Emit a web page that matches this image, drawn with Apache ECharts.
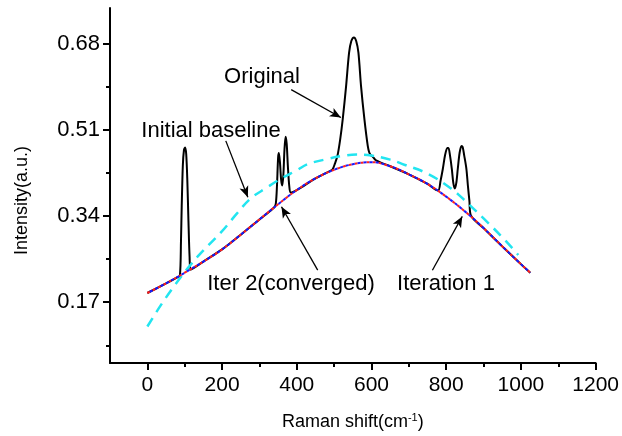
<!DOCTYPE html>
<html>
<head>
    <meta charset="utf-8">
    <title>Raman baseline</title>
    <script src="https://cdn.jsdelivr.net/npm/echarts@6/dist/echarts.min.js"></script>
    <style>
        html, body { margin: 0; padding: 0; background: #fff; }
        #chart { width: 622px; height: 436px; }
    </style>
</head>
<body>
    <div id="chart"></div>
    <script>
        // original spectrum
        var origX = [0, 50, 80, 87, 90, 92, 95, 98, 101, 104, 107, 110, 113, 116, 150, 200, 250, 300,
            340, 344, 347, 350, 352, 355, 358, 361, 364, 367, 370, 373, 376, 380, 384, 400, 450,
            490, 496, 502, 509, 516, 523, 532, 540, 546, 553, 559, 565, 572, 581, 590, 594, 598, 603, 610, 617, 625,
            650, 700, 750, 778, 785, 791, 797, 803, 806, 810, 815, 819, 823, 827, 831, 836, 841, 844, 848, 854, 858, 862, 866,
            900, 950, 1000, 1025];
        var origY = [0.188, 0.207, 0.219, 0.222, 0.29, 0.36, 0.44, 0.47, 0.475, 0.462, 0.41, 0.33, 0.26, 0.234, 0.250, 0.274, 0.303, 0.333,
            0.357, 0.365, 0.40, 0.455, 0.464, 0.445, 0.412, 0.40, 0.42, 0.47, 0.496, 0.482, 0.44, 0.398, 0.386, 0.391, 0.414,
            0.429, 0.432, 0.443, 0.459, 0.49, 0.531, 0.596, 0.662, 0.685, 0.692, 0.685, 0.662, 0.596, 0.531, 0.478, 0.465, 0.46, 0.457, 0.451, 0.448, 0.445,
            0.438, 0.422, 0.403, 0.39, 0.41, 0.433, 0.46, 0.474, 0.474, 0.46, 0.433, 0.405, 0.394, 0.405, 0.433, 0.465, 0.478, 0.476, 0.46, 0.433, 0.40, 0.37, 0.341,
            0.316, 0.280, 0.245, 0.228];

        // initial baseline (polynomial fit, cyan dashed)
        var initX = [0, 37, 75, 115, 150, 200, 240, 276, 320, 361, 400, 429, 480, 520, 560, 600, 650, 688, 751, 813, 849, 900, 950, 993];
        var initY = [0.122, 0.165, 0.205, 0.243, 0.272, 0.31, 0.345, 0.374, 0.396, 0.415, 0.43, 0.442, 0.452, 0.458, 0.461, 0.459, 0.451, 0.441, 0.423, 0.394, 0.371, 0.335, 0.298, 0.263];

        // iteration baselines
        var iterX = [0, 50, 100, 150, 200, 250, 300, 350, 400, 450, 500, 550, 600, 650, 700, 750, 800, 850, 900, 950, 1000, 1025];
        var iter1Y = [0.188, 0.207, 0.228, 0.250, 0.274, 0.303, 0.333, 0.363, 0.391, 0.414, 0.431, 0.442, 0.446, 0.438, 0.422, 0.403, 0.378, 0.349, 0.316, 0.280, 0.245, 0.228];
        var iter2Y = [0.188, 0.207, 0.228, 0.250, 0.274, 0.303, 0.333, 0.363, 0.391, 0.414, 0.431, 0.442, 0.446, 0.438, 0.422, 0.403, 0.378, 0.349, 0.316, 0.280, 0.245, 0.228];

        var yMajor = [0.17, 0.34, 0.51, 0.68];
        var yMinor = [0.085, 0.255, 0.425, 0.595];
        var xMajor = [0, 200, 400, 600, 800, 1000, 1200];
        var xMinor = [100, 300, 500, 700, 900, 1100];

        function pairs(xs, ys) {
            return xs.map(function (x, i) { return [x, ys[i]]; });
        }

        var font = 'Liberation Sans, Arial, sans-serif';
        var chart = echarts.init(document.getElementById('chart'));

        var arrowStyle = { color: '#000', width: 1.3, type: 'solid' };

        var option = {
            animation: false,
            backgroundColor: '#fff',
            grid: { left: 110, right: 25, top: 8, bottom: 71 },
            xAxis: [{
                type: 'value', min: -100, max: 1200,
                name: 'Raman shift(cm{sup|-1})',
                nameLocation: 'middle', nameGap: 49,
                nameTextStyle: {
                    fontFamily: font, fontSize: 18, color: '#000',
                    rich: { sup: { fontFamily: font, fontSize: 11, color: '#000', verticalAlign: 'top', padding: [0, 0, 9, 0] } }
                },
                axisLine: { show: true, onZero: false, lineStyle: { color: '#000', width: 2 } },
                axisTick: { show: true, length: 7, customValues: xMajor, lineStyle: { color: '#000', width: 2 } },
                axisLabel: {
                    customValues: xMajor, fontFamily: font, fontSize: 21, color: '#000', margin: 12,
                    formatter: function (v) { return String(v); }
                },
                splitLine: { show: false }
            }, {
                type: 'value', min: -100, max: 1200, position: 'bottom',
                axisLine: { show: false, onZero: false },
                axisTick: { show: true, length: 4, customValues: xMinor, lineStyle: { color: '#000', width: 2 } },
                axisLabel: { show: false },
                splitLine: { show: false }
            }],
            yAxis: [{
                type: 'value', min: 0.05, max: 0.75,
                name: 'Intensity(a.u.)',
                nameLocation: 'middle', nameGap: 79,
                nameTextStyle: { fontFamily: font, fontSize: 18, color: '#000', padding: [0, 30, 0, 0] },
                axisLine: { show: true, onZero: false, lineStyle: { color: '#000', width: 2 } },
                axisTick: { show: true, length: 7, customValues: yMajor, lineStyle: { color: '#000', width: 2 } },
                axisLabel: {
                    customValues: yMajor, fontFamily: font, fontSize: 22, color: '#000', margin: 10,
                    formatter: function (v) { return v.toFixed(2); }
                },
                splitLine: { show: false }
            }, {
                type: 'value', min: 0.05, max: 0.75, position: 'left',
                axisLine: { show: false, onZero: false },
                axisTick: { show: true, length: 4, customValues: yMinor, lineStyle: { color: '#000', width: 2 } },
                axisLabel: { show: false },
                splitLine: { show: false }
            }],
            series: [
                {
                    name: 'Original', type: 'line', data: pairs(origX, origY),
                    showSymbol: false, smooth: 0.3,
                    lineStyle: { color: '#000', width: 2 },
                    z: 2,
                    markLine: {
                        silent: true, animation: false,
                        symbol: ['none', 'arrow'], symbolSize: [7, 11],
                        label: { show: false },
                        lineStyle: arrowStyle,
                        data: [
                            [{ coord: [385, 0.589] }, { coord: [518, 0.534] }],
                            [{ coord: [210, 0.488] }, { coord: [269, 0.377] }],
                            [{ coord: [456, 0.233] }, { coord: [359, 0.358] }],
                            [{ coord: [763, 0.233] }, { coord: [843, 0.339] }]
                        ]
                    }
                },
                {
                    name: 'Initial baseline', type: 'line', data: pairs(initX, initY),
                    showSymbol: false, smooth: 0.4,
                    lineStyle: { color: '#22e5f0', width: 2.5, type: [10, 7] },
                    z: 3
                },
                {
                    name: 'Iteration 1', type: 'line', data: pairs(iterX, iter1Y),
                    showSymbol: false, smooth: 0.4,
                    lineStyle: { color: '#ff2020', width: 2, type: [3, 3] },
                    z: 4
                },
                {
                    name: 'Iter 2(converged)', type: 'line', data: pairs(iterX, iter2Y),
                    showSymbol: false, smooth: 0.4,
                    lineStyle: { color: '#1a1aff', width: 2, type: [3, 3], dashOffset: 3 },
                    z: 5
                }
            ],
            graphic: [
                { type: 'text', x: 262, y: 77, style: { text: 'Original', font: '22px ' + font, fill: '#000', align: 'center', verticalAlign: 'middle' } },
                { type: 'text', x: 211, y: 131, style: { text: 'Initial baseline', font: '22px ' + font, fill: '#000', align: 'center', verticalAlign: 'middle' } },
                { type: 'text', x: 291, y: 284, style: { text: 'Iter 2(converged)', font: '22px ' + font, fill: '#000', align: 'center', verticalAlign: 'middle' } },
                { type: 'text', x: 446, y: 284, style: { text: 'Iteration 1', font: '22px ' + font, fill: '#000', align: 'center', verticalAlign: 'middle' } }
            ]
        };

        chart.setOption(option);
    </script>
</body>
</html>
